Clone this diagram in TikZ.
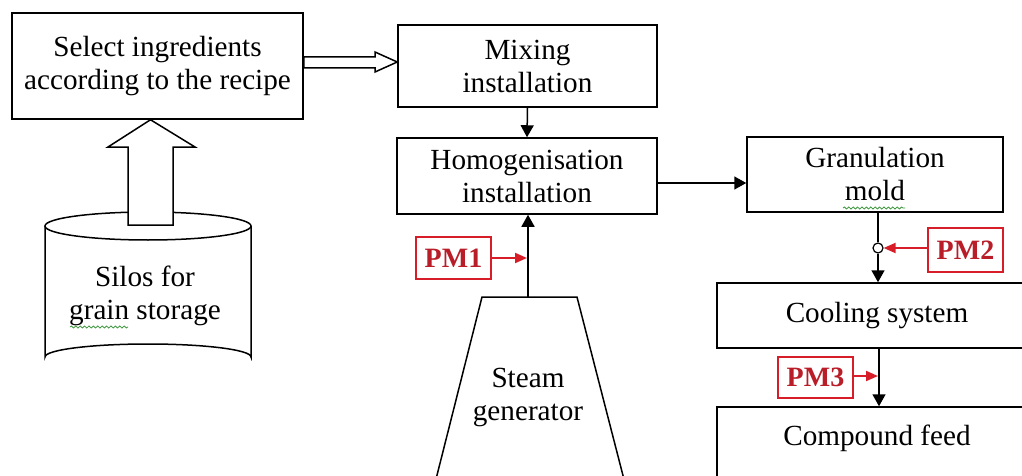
\documentclass[tikz,border=0pt]{standalone}
\usepackage{fontspec}
\setmainfont{Liberation Serif}
\usetikzlibrary{arrows.meta,decorations.pathmorphing}
\definecolor{pmred}{RGB}{215,30,40}
\definecolor{pmtext}{RGB}{185,30,40}
\definecolor{squig}{RGB}{60,150,60}
\tikzset{
  box/.style={draw=black, line width=0.75pt, fill=white, align=center, inner sep=0pt,
    font=\fontsize{14.6}{16.5}\selectfont},
  lbl/.style={align=center, inner sep=0pt, font=\fontsize{14.6}{16.5}\selectfont},
  pm/.style={draw=pmred, line width=1.1pt, text=pmtext, inner sep=0pt,
    font=\fontsize{14}{16}\selectfont\bfseries},
  flow/.style={line width=0.75pt, -{Triangle[length=6pt,width=6.5pt]}},
  redflow/.style={draw=pmred, line width=1pt, -{Triangle[length=6pt,width=5pt]}},
  hollow/.style={draw=black, line width=0.75pt, fill=white, line join=miter},
  squiggle/.style={draw=squig, line width=0.4pt, decorate,
    decoration={snake, amplitude=0.5pt, segment length=2.2pt}}
}
\begin{document}
\begin{tikzpicture}[x=0.5pt, y=-0.5pt]
\useasboundingbox (0,0) rectangle (1022,476);
\clip (0,0) rectangle (1022,476);
\fill[white] (0,0) rectangle (1022,476);

% boxes
\node[box, minimum width=145.5pt, minimum height=53pt] (sel) at (157.5,66) {Select ingredients\\according to the recipe};
\node[box, minimum width=129.5pt, minimum height=41pt] (mix) at (527.5,66) {Mixing\\installation};
\node[box, minimum width=130pt, minimum height=38pt] (hom) at (527,176) {Homogenisation\\installation};
\node[box, minimum width=128pt, minimum height=37.5pt] (gran) at (875,174.5) {Granulation\\mold};
\node[box, minimum width=160pt, minimum height=32.5pt] (cool) at (877,315.5) {Cooling system};
\node[box, minimum width=161.5pt, minimum height=41.5pt] (comp) at (878.5,448.5) {};
\node[lbl] (comptext) at (877,438) {Compound feed};

% silo (cylinder)
\draw[line width=0.75pt, fill=white] (45,226) -- (45,357) arc[start angle=180, end angle=360, x radius=103, y radius=13] -- (251,226);
\draw[line width=0.75pt] (148,226) ellipse[x radius=103, y radius=14];
\coordinate (silotop) at (150.5,225);
\node[lbl] (silo) at (145,296) {Silos for\\grain storage};

% steam generator (trapezoid)
\draw[line width=0.75pt, fill=white] (432,495) -- (482,297) -- (577,297) -- (628,495);
\coordinate (steamtop) at (528,297);
\node[lbl] (steam) at (528,397) {Steam\\generator};

% hollow up arrow silo -> select
\draw[hollow] (silotop -| 128,0) -- (128,147) -- (108,147) -- (sel.south -| 150.5,0) -- (195,147) -- (173,147) -- (silotop -| 173,0) -- cycle;

% hollow right arrow select -> mixing
\draw[hollow] (sel.east |- 0,57) -- (375,57) -- (375,52) -- (mix.west |- 0,62) -- (375,72) -- (375,68) -- (sel.east |- 0,68) -- cycle;

% black flows
\draw[flow] (mix.south) -- (hom.north);
\draw[flow] (steamtop) -- (hom.south -| steamtop);
\draw[flow] (hom.east |- 0,183) -- (gran.west |- 0,183);
\coordinate (gtop) at (878,212);
\node[draw=black, line width=0.6pt, fill=white, circle, minimum size=5pt, inner sep=0pt] (valve) at (878,248) {};
\draw[line width=0.75pt] (gtop) -- (valve.north);
\draw[flow] (valve.south) -- (cool.north -| valve);
\draw[flow] (cool.south -| 879,0) -- (comp.north -| 879,0);

% PM labels
\node[pm, minimum width=37.5pt, minimum height=21pt] (pm1) at (453.5,258) {PM1};
\node[pm, minimum width=37.5pt, minimum height=22pt] (pm2) at (965.5,250) {PM2};
\node[pm, minimum width=37.5pt, minimum height=20.5pt] (pm3) at (815.5,377.5) {PM3};
\draw[redflow] (pm1.east |- 0,258) -- (527,258);
\draw[redflow] (pm2.west |- 0,248) -- (valve.east);
\draw[redflow] (pm3.east |- 0,376) -- (878,376);

% spell-check squiggles
\draw[squiggle] (70,327) -- (128,327);
\draw[squiggle] (843,208) -- (905,208);
\end{tikzpicture}
\end{document}
